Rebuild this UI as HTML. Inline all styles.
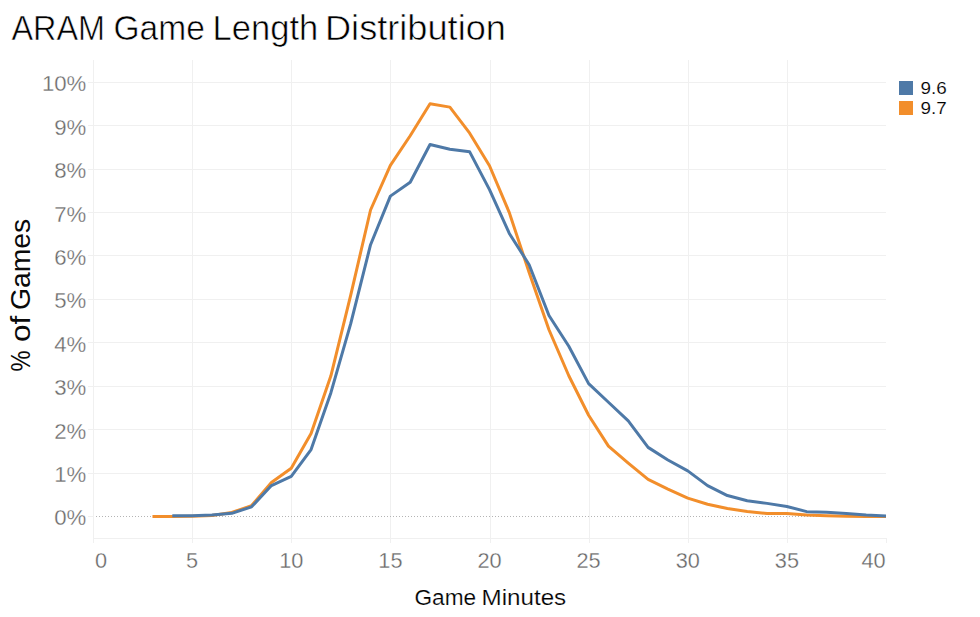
<!DOCTYPE html>
<html><head><meta charset="utf-8">
<style>
html,body{margin:0;padding:0;background:#fff;}
body{width:980px;height:617px;overflow:hidden;}
svg{display:block;font-family:"Liberation Sans",sans-serif;}
</style></head>
<body>
<svg width="980" height="617" viewBox="0 0 980 617">
<rect width="980" height="617" fill="#fff"/>
<g font-size="35.5" fill="#000" stroke="#fff" stroke-width="0.6">
<text transform="translate(11.5,40) scale(0.912,1)">ARAM</text>
<text transform="translate(113.5,40) scale(0.945,1)">Game</text>
<text transform="translate(212.5,40) scale(0.974,1)">Length</text>
<text transform="translate(325,40) scale(1.019,1)">Distribution</text>
</g>
<g stroke="#f0f0f0" stroke-width="1" shape-rendering="crispEdges">
<line x1="88" y1="473.5" x2="886" y2="473.5"/>
<line x1="88" y1="429.5" x2="886" y2="429.5"/>
<line x1="88" y1="386.5" x2="886" y2="386.5"/>
<line x1="88" y1="342.5" x2="886" y2="342.5"/>
<line x1="88" y1="299.5" x2="886" y2="299.5"/>
<line x1="88" y1="255.5" x2="886" y2="255.5"/>
<line x1="88" y1="212.5" x2="886" y2="212.5"/>
<line x1="88" y1="169.5" x2="886" y2="169.5"/>
<line x1="88" y1="125.5" x2="886" y2="125.5"/>
<line x1="88" y1="82.5" x2="886" y2="82.5"/>
<line x1="93" y1="538.5" x2="886" y2="538.5"/>
<line x1="93.5" y1="60" x2="93.5" y2="543"/>
<line x1="192.5" y1="60" x2="192.5" y2="543"/>
<line x1="291.5" y1="60" x2="291.5" y2="543"/>
<line x1="390.5" y1="60" x2="390.5" y2="543"/>
<line x1="490.5" y1="60" x2="490.5" y2="543"/>
<line x1="589.5" y1="60" x2="589.5" y2="543"/>
<line x1="688.5" y1="60" x2="688.5" y2="543"/>
<line x1="787.5" y1="60" x2="787.5" y2="543"/>
<line x1="886.5" y1="538" x2="886.5" y2="543"/>
<line x1="88" y1="516.5" x2="93" y2="516.5"/>
</g>
<line x1="96" y1="516.5" x2="886" y2="516.5" stroke="#b4b4b4" stroke-width="1" stroke-dasharray="1 2" />
<g font-size="22.2" fill="#6a6a6a" stroke="#fff" stroke-width="0.3">
<text x="86.3" y="525.3" text-anchor="end">0%</text>
<text x="86.3" y="481.9" text-anchor="end">1%</text>
<text x="86.3" y="438.5" text-anchor="end">2%</text>
<text x="86.3" y="395.1" text-anchor="end">3%</text>
<text x="86.3" y="351.7" text-anchor="end">4%</text>
<text x="86.3" y="308.3" text-anchor="end">5%</text>
<text x="86.3" y="264.9" text-anchor="end">6%</text>
<text x="86.3" y="221.5" text-anchor="end">7%</text>
<text x="86.3" y="178.1" text-anchor="end">8%</text>
<text x="86.3" y="134.7" text-anchor="end">9%</text>
<text x="86.3" y="91.3" text-anchor="end">10%</text>
</g>
<g font-size="21.7" fill="#666" stroke="#fff" stroke-width="0.3">
<text x="95" y="567.5">0</text>
<text x="192.1" y="567.5" text-anchor="middle">5</text>
<text x="291.2" y="567.5" text-anchor="middle">10</text>
<text x="390.4" y="567.5" text-anchor="middle">15</text>
<text x="489.5" y="567.5" text-anchor="middle">20</text>
<text x="588.6" y="567.5" text-anchor="middle">25</text>
<text x="687.8" y="567.5" text-anchor="middle">30</text>
<text x="786.9" y="567.5" text-anchor="middle">35</text>
<text x="885.5" y="567.5" text-anchor="end">40</text>
</g>
<g font-size="22" fill="#000" stroke="#fff" stroke-width="0.2">
<text transform="translate(414.5,604.5) scale(1.03,1)">Game</text>
<text transform="translate(481.5,604.5) scale(1.1,1)">Minutes</text>
</g>
<g transform="translate(30,0) rotate(-90)" font-size="27.5" fill="#0a0a0a">
<text transform="translate(-371.5,0) scale(0.86,1)">%</text>
<text transform="translate(-342,0) scale(1.15,1)">of</text>
<text transform="translate(-310,0) scale(1.03,1)">Games</text>
</g>
<g fill="none" stroke-width="3" stroke-linejoin="round" stroke-linecap="butt">
<polyline stroke="#f28e2b" points="152.47,516.40 172.30,516.40 192.12,516.18 211.95,515.53 231.78,512.49 251.60,505.55 271.42,482.55 291.25,468.23 311.07,433.51 330.90,375.78 350.72,295.06 370.55,210.00 390.38,165.29 410.20,135.78 430.02,103.67 449.85,107.14 469.68,133.18 489.50,165.73 509.32,212.60 529.15,272.49 548.97,329.78 568.80,375.78 588.62,415.28 608.45,446.09 628.27,463.02 648.10,479.29 667.92,489.06 687.75,498.17 707.57,504.25 727.40,508.59 747.23,511.41 767.05,513.49 786.88,513.58 806.70,515.10 826.52,515.71 846.35,516.18 866.17,516.40 886.00,516.40"/>
<polyline stroke="#4e79a7" points="172.30,515.71 192.12,515.75 211.95,515.10 231.78,513.36 251.60,506.85 271.42,485.59 291.25,476.47 311.07,449.56 330.90,392.71 350.72,323.70 370.55,244.72 390.38,196.11 410.20,182.22 430.02,144.46 449.85,149.24 469.68,151.84 489.50,189.60 509.32,233.43 529.15,264.68 548.97,315.46 568.80,346.27 588.62,383.60 608.45,402.26 628.27,420.92 648.10,447.39 667.92,459.98 687.75,470.83 707.57,485.59 727.40,495.57 747.23,500.78 767.05,503.38 786.88,506.50 806.70,511.63 826.52,512.32 846.35,513.58 866.17,515.01 886.00,515.88"/>
</g>
<rect x="899" y="81" width="14" height="14" fill="#4e79a7"/>
<rect x="899" y="101" width="14" height="14" fill="#f28e2b"/>
<g font-size="17" fill="#000" stroke="#fff" stroke-width="0.15">
<text transform="translate(920.5,94) scale(1.11,1)">9.6</text>
<text transform="translate(920.5,114) scale(1.11,1)">9.7</text>
</g>
</svg>
</body></html>
